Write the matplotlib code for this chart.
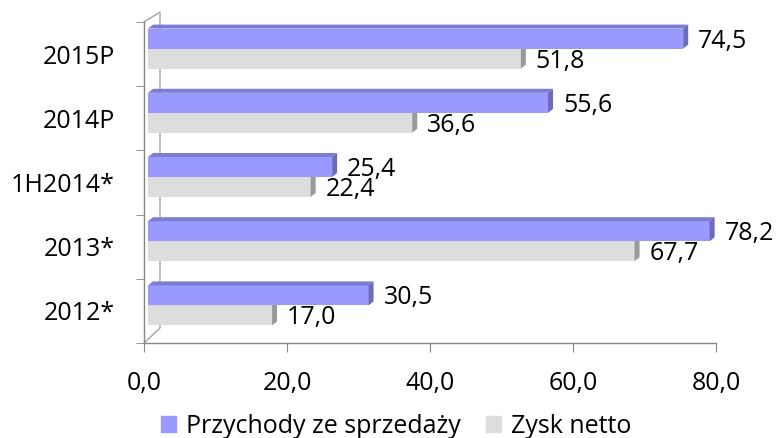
import matplotlib
matplotlib.use("Agg")
import matplotlib.pyplot as plt
from matplotlib.patches import Polygon, Patch

categories = ["2012*", "2013*", "1H2014*", "2014P", "2015P"]
przychody = [30.5, 78.2, 25.4, 55.6, 74.5]
zysk = [17.0, 67.7, 22.4, 36.6, 51.8]
series_names = ["Przychody ze sprzedaży", "Zysk netto"]
xticks = [0, 20, 40, 60, 80]
xtick_labels = ["0,0", "20,0", "40,0", "60,0", "80,0"]


def fmt(v):
    return f"{v:.1f}".replace(".", ",")


plt.rcParams['font.family'] = ['Open Sans', 'DejaVu Sans']
plt.rcParams['font.size'] = 18

W, H = 777, 438
fig = plt.figure(figsize=(W / 100, H / 100), dpi=100)
# axes box in pixels: x 144..716, y 22..343
ax_l, ax_r, ax_t, ax_b = 144, 716, 22, 343
ax = fig.add_axes([ax_l / W, 1 - ax_b / H, (ax_r - ax_l) / W, (ax_b - ax_t) / H])
ax.set_xlim(0, 80)
ax.set_ylim(-0.5, len(categories) - 0.5)

# data units per pixel
ux = 80 / (ax_r - ax_l)
uy = len(categories) / (ax_b - ax_t)

bar_h = 20 * uy
lift = 5.5 * uy
depth_x, depth_y = 5 * ux, 4 * uy
start = 4 * ux
extra = 6.5 * ux

grey = dict(front='#DDDDDD', top='#C8C8C8', side='#9A9A9A')
blue = dict(front='#9999FF', top='#7C7CD2', side='#6B6BB8')


def bars3d(values, yoff, c):
    ys = [i + lift + yoff for i in range(len(values))]
    widths = [v + extra - start for v in values]
    ax.barh(ys, widths, height=bar_h, left=start, align='edge',
            color=c['front'], linewidth=0, zorder=2)
    for y, v in zip(ys, values):
        x1 = v + extra
        top = y + bar_h
        ax.add_patch(Polygon([(start, top), (x1, top), (x1 + depth_x, top + depth_y),
                              (start + depth_x, top + depth_y)],
                             closed=True, color=c['top'], linewidth=0, zorder=2))
        ax.add_patch(Polygon([(x1, y), (x1 + depth_x, y + depth_y),
                              (x1 + depth_x, top + depth_y), (x1, top)],
                             closed=True, color=c['side'], linewidth=0, zorder=2))
    return ys


ys_z = bars3d(zysk, -bar_h, grey)
ys_p = bars3d(przychody, 0, blue)

for ys, vals in ((ys_p, przychody), (ys_z, zysk)):
    for y, v in zip(ys, vals):
        ax.annotate(fmt(v), xy=(v + extra + depth_x, y + bar_h / 2),
                    xytext=(7.2, -1.8), textcoords='offset points',
                    va='center', ha='left', fontsize=18, color='black', zorder=5)

# back wall lines (3D frame)
wall_dx = 16 / (ax_r - ax_l)
ax.plot([0, wall_dx, wall_dx, 0],
        [1, 1 + 10 / (ax_b - ax_t), 15 / (ax_b - ax_t), 0],
        transform=ax.transAxes, clip_on=False, color='#A6A6A6', lw=1, zorder=1)

for s in ('top', 'right'):
    ax.spines[s].set_visible(False)
for s in ('left', 'bottom'):
    ax.spines[s].set_color('#868686')
    ax.spines[s].set_linewidth(1.0)

ax.set_yticks(range(len(categories)))
ax.set_yticklabels(categories)
ax.set_yticks([i - 0.5 for i in range(len(categories) + 1)], minor=True)
ax.tick_params(axis='y', which='major', length=0, pad=21)
ax.tick_params(axis='y', which='minor', length=5.8, color='#868686', direction='out')

ax.set_xticks(xticks)
ax.set_xticklabels(xtick_labels)
ax.tick_params(axis='x', length=6.5, color='#868686', direction='out', pad=14)

handles = [Patch(color=blue['front']), Patch(color=grey['front'])]
fig.legend(handles, series_names, loc='center', bbox_to_anchor=(0.51, 0.026),
           ncol=2, frameon=False, fontsize=18, handlelength=0.6, handleheight=0.6,
           handletextpad=0.4, columnspacing=1.0, borderpad=0, borderaxespad=0)

fig.savefig('out.png', dpi=100)
